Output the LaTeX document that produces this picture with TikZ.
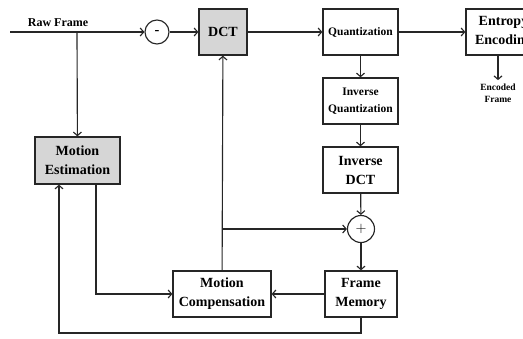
\documentclass[tikz,border=0pt]{standalone}
\usepackage{fontspec}
\setmainfont{Liberation Serif}
\usetikzlibrary{arrows.meta}
\begin{document}
\begin{tikzpicture}[x=1pt, y=-1pt,
    block/.style={draw=black!85, line width=0.45mm, align=center, inner sep=0pt, minimum height=46pt,
      font=\fontsize{14}{19}\selectfont\bfseries},
    small/.style={font=\fontsize{11.5}{17}\selectfont\bfseries},
    shaded/.style={fill=black!16},
    junction/.style={draw=black!85, circle, line width=0.4mm, inner sep=0pt, minimum size=#1},
    link/.style={draw=black!85, line width=0.4mm, -{Straight Barb[length=3.5pt, width=8pt]}}]
          \useasboundingbox (0,0) rectangle (523,338);
          \node [junction=24pt, font=\Large\bfseries] (minus) at (157, 32) {-};
          \node [block, shaded, minimum width=48pt] (DCT) at (223, 32) {DCT};
          \node [block, small, minimum width=75pt] (Q) at (360.5, 32) {Quantization};
          \node [block, minimum width=75pt] (E) at (503.5, 32) {Entropy\\Encoding};
          \node [font=\fontsize{9.5}{12}\selectfont\bfseries, align=center] (out) at (498, 93) {Encoded\\Frame};
          \node [block, small, minimum width=75pt] (IQ) at (360.5, 101) {Inverse\\Quantization};
          \node [block, minimum width=75pt] (IDCT) at (360.5, 170) {Inverse\\DCT};
          \node [junction=27pt, font=\Large] (plus) at (361, 229) {$+$};
          \node [block, minimum width=72pt] (FM) at (361, 294) {Frame\\Memory};
          \node [block, minimum width=98pt] (MC) at (222, 294) {Motion\\Compensation};
          \node [block, shaded, minimum width=85pt, minimum height=47pt] (ME) at (77.5, 160.5) {Motion\\Estimation};
          
          \coordinate (in) at (10, 32);
          \coordinate (split) at (77, 32);
          \coordinate (tap) at (223, 229);
          \coordinate (loop) at (361, 333);
          \node [font=\fontsize{12}{14}\selectfont\bfseries, anchor=south] (raw) at (58, 30) {Raw Frame};
          
          \draw [link] (in) -- (minus);
          \draw [link] (split) -- (ME);
          \draw [link] (minus) -- (DCT);
          \draw [link] (DCT) -- (Q);
          \draw [link] (Q) -- (E);
          \draw [link] (E.south -| out) -- (out);
          \draw [link] (Q) -- (IQ);
          \draw [link] (IQ) -- (IDCT);
          \draw [link] (IDCT) -- (plus);
          \draw [link] (plus) -- (FM);
          \draw [link] (FM) -- (MC);
          \draw [link] (MC) -- (DCT);
          \draw [link] (tap) -- (plus);
          \draw [link] ([xshift=18.5pt]ME.south) |- (MC.west);
          \draw [link] (FM.south) -- (loop) -| ([xshift=-18.5pt]ME.south);
        \end{tikzpicture}
\end{document}
